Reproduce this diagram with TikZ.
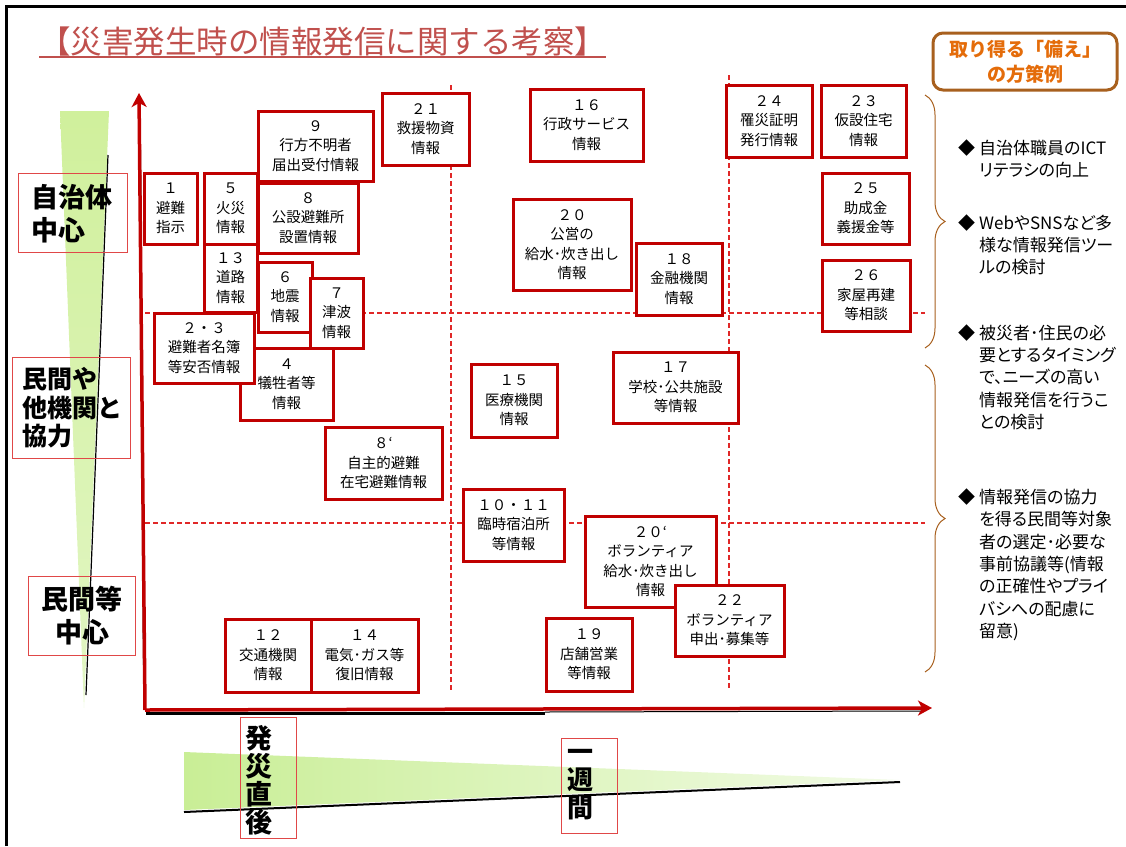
\documentclass[tikz,border=0pt]{standalone}
\usepackage{fontspec}
\setmainfont{Noto Sans CJK JP}
\newfontfamily\jpprop[RawFeature=+palt]{Noto Sans CJK JP}
\usetikzlibrary{arrows.meta,decorations.pathreplacing}
\definecolor{boxred}{HTML}{C00000}
\definecolor{dashred}{HTML}{E02828}
\definecolor{lblred}{HTML}{E04848}
\definecolor{titlered}{HTML}{C0504D}
\definecolor{bracebrown}{HTML}{A8601E}
\definecolor{orangetxt}{HTML}{E46C0A}
\definecolor{gA}{HTML}{D0F09C}
\definecolor{gB}{HTML}{E2F6C4}
\definecolor{gC}{HTML}{C9EE96}
\definecolor{gD}{HTML}{F2FBE6}
\tikzset{
  ibox/.style={draw=boxred, line width=3pt, fill=white, align=center, inner sep=0pt,
    font=\fontsize{14.5}{19.5}\selectfont},
  lblbox/.style={draw=lblred, line width=1pt},
  lbltext/.style={font=\bfseries\fontsize{27}{33}\selectfont, inner sep=0pt},
  guide/.style={dashred, line width=1.2pt, dash pattern=on 5pt off 3pt},
  axis/.style={boxred, line width=3.5pt, -{Stealth[length=14pt,width=15pt,inset=4pt]}},
  bullet/.style={font=\jpprop\fontsize{17}{22.4}\selectfont, inner sep=0pt, align=left},
  bracebr/.style={bracebrown, line width=1pt, decorate, decoration={brace, amplitude=20pt, aspect=0.5}}
}
\newcommand{\ibox}[6]{\node[ibox, minimum width={(#4-#2)*1pt}, minimum height={(#5-#3)*1pt}] (#1) at ({(#2+#4)/2},{(#3+#5)/2}) {#6};}
\begin{document}
\begin{tikzpicture}[x=1pt,y=-1pt]
\useasboundingbox (0,0) rectangle (1126,846);
% frame
\draw[black, line width=3pt] (6,846) -- (6,6) -- (1126,6);
% title
\node[anchor=west, text=titlered, inner sep=0pt, font=\fontsize{31.5}{32}\selectfont] (title) at (39,42) {【災害発生時の情報発信に関する考察】};
\draw[titlered, line width=1.5pt] (title.south west) -- (title.south east);
% green wedges
\shade[top color=gA, bottom color=gB] (60,111) -- (109,111) -- (84,708) -- cycle;
\draw[black, line width=1.2pt] (108,155) -- (86,695);
\shade[left color=gC, right color=gD] (184,752) -- (900,780) -- (184,810) -- cycle;
\draw[black, line width=2pt] (184,812) -- (900,782);
% left labels
\node[lblbox, minimum width=109pt, minimum height=79pt] (lA) at (72.5,212.5) {};
\node[lbltext, align=left] (lAt) at (72,214) {自治体\\中心};
\node[lblbox, minimum width=118pt, minimum height=101pt] (lB) at (71,407.5) {};
\node[lbltext, align=left, font=\bfseries\fontsize{25}{28.5}\selectfont] (lBt) at (72,408) {民間や\\他機関と\\協力};
\node[lblbox, minimum width=107pt, minimum height=79pt] (lC) at (81.5,615.5) {};
\node[lbltext, align=center] (lCt) at (82,616) {民間等\\中心};
\node[lblbox, minimum width=56pt, minimum height=121pt] (lD) at (268,777.5) {};
\node[lbltext, align=center, font=\bfseries\fontsize{27}{28}\selectfont] (lDt) at (259,780) {発\\災\\直\\後};
\node[lblbox, minimum width=56pt, minimum height=95pt] (lE) at (589,785.5) {};
\node[lbltext, align=center, font=\bfseries\fontsize{26}{28}\selectfont] (lEt) at (580,785) {一\\週\\間};
% guide lines
\coordinate (h1a) at (145,313); \coordinate (h1b) at (925,313);
\coordinate (h2a) at (145,523); \coordinate (h2b) at (925,523);
\coordinate (v1a) at (451,85); \coordinate (v1b) at (451,690);
\coordinate (v2a) at (729,75); \coordinate (v2b) at (729,690);
\draw[guide] (h1a) -- (h1b);
\draw[guide] (h2a) -- (h2b);
\draw[guide] (v1a) -- (v1b);
\draw[guide] (v2a) -- (v2b);
% axes
\coordinate (O) at (145,710);
\coordinate (Ytop) at (139,93);
\coordinate (Xend) at (932,708);
\draw[black, line width=1.2pt] (140.5,150) -- (143.5,665);
\draw[black, line width=3pt] (146,713) -- (545,713);
\draw[black, line width=1pt] (545,712) -- (922,711);
\draw[axis] (O) -- (Ytop);
\draw[axis] (O) -- (Xend);
% info boxes
\ibox{b1}{144}{173}{197}{244}{１\\避難\\指示}
\ibox{b5}{204}{173}{257}{244}{５\\火災\\情報}
\ibox{b9}{258}{111}{373}{181}{９\\行方不明者\\届出受付情報}
\ibox{b8}{258}{183}{358}{253}{８\\公設避難所\\設置情報}
\ibox{b13}{204}{244}{257}{312}{１３\\道路\\情報}
\ibox{b4}{240}{348}{333}{420}{４\\犠牲者等\\情報}
\ibox{b6}{258}{262}{312}{332}{６\\地震\\情報}
\ibox{b7}{310}{278}{363}{348}{７\\津波\\情報}
\ibox{b23x}{154}{313}{254}{383}{２・３\\避難者名簿\\等安否情報}
\ibox{b8p}{325}{427}{442}{499}{８‘\\自主的避難\\在宅避難情報}
\ibox{b12}{225}{619}{311}{692}{１２\\交通機関\\情報}
\ibox{b14}{311}{619}{418}{692}{１４\\電気･ガス等\\復旧情報}
\ibox{b21}{382}{93}{469}{165}{２１\\救援物資\\情報}
\ibox{b16}{530}{89}{643}{161}{１６\\行政サービス\\情報}
\ibox{b24}{726}{85}{812}{157}{２４\\罹災証明\\発行情報}
\ibox{b23}{821}{85}{906}{157}{２３\\仮設住宅\\情報}
\ibox{b20}{513}{199}{631}{290}{２０\\公営の\\給水･炊き出し\\情報}
\ibox{b18}{636}{243}{722}{315}{１８\\金融機関\\情報}
\ibox{b25}{822}{173}{909}{244}{２５\\助成金\\義援金等}
\ibox{b26}{822}{260}{910}{331}{２６\\家屋再建\\等相談}
\ibox{b15}{471}{364}{557}{437}{１５\\医療機関\\情報}
\ibox{b17}{613}{352}{738}{423}{１７\\学校･公共施設\\等情報}
\ibox{b1011}{463}{489}{564}{561}{１０・１１\\臨時宿泊所\\等情報}
\ibox{b20p}{585}{516}{716}{607}{２０‘\\ボランティア\\給水･炊き出し\\情報}
\ibox{b22}{675}{585}{784}{656}{２２\\ボランティア\\申出･募集等}
\ibox{b19}{546}{618}{632}{691}{１９\\店舗営業\\等情報}
% right panel
\node[draw=bracebrown, line width=3pt, rounded corners=10pt, minimum width=184pt, minimum height=57pt,
  align=center, text=orangetxt, font=\bfseries\fontsize{19}{25}\selectfont, inner sep=0pt] (head) at (1025,61.5) {取り得る「備え」\\の方策例};
\coordinate (br1a) at (925,95); \coordinate (br1b) at (925,348);
\coordinate (br2a) at (925,365); \coordinate (br2b) at (925,672);
\draw[bracebr] (br1a) -- (br1b);
\draw[bracebr] (br2a) -- (br2b);
\node[bullet, anchor=west] (d1) at (958,148) {◆};
\node[bullet, anchor=west] (t1) at (979,159) {自治体職員のICT\\リテラシの向上};
\node[bullet, anchor=west] (d2) at (958,223) {◆};
\node[bullet, anchor=west] (t2) at (979,245) {WebやSNSなど多\\様な情報発信ツー\\ルの検討};
\node[bullet, anchor=west] (d3) at (958,333) {◆};
\node[bullet, anchor=west] (t3) at (979,377.5) {被災者･住民の必\\要とするタイミング\\で、ニーズの高い\\情報発信を行うこ\\との検討};
\node[bullet, anchor=west] (d4) at (958,497) {◆};
\node[bullet, anchor=west] (t4) at (979,565) {情報発信の協力\\を得る民間等対象\\者の選定･必要な\\事前協議等(情報\\の正確性やプライ\\バシへの配慮に\\留意)};
\end{tikzpicture}
\end{document}
